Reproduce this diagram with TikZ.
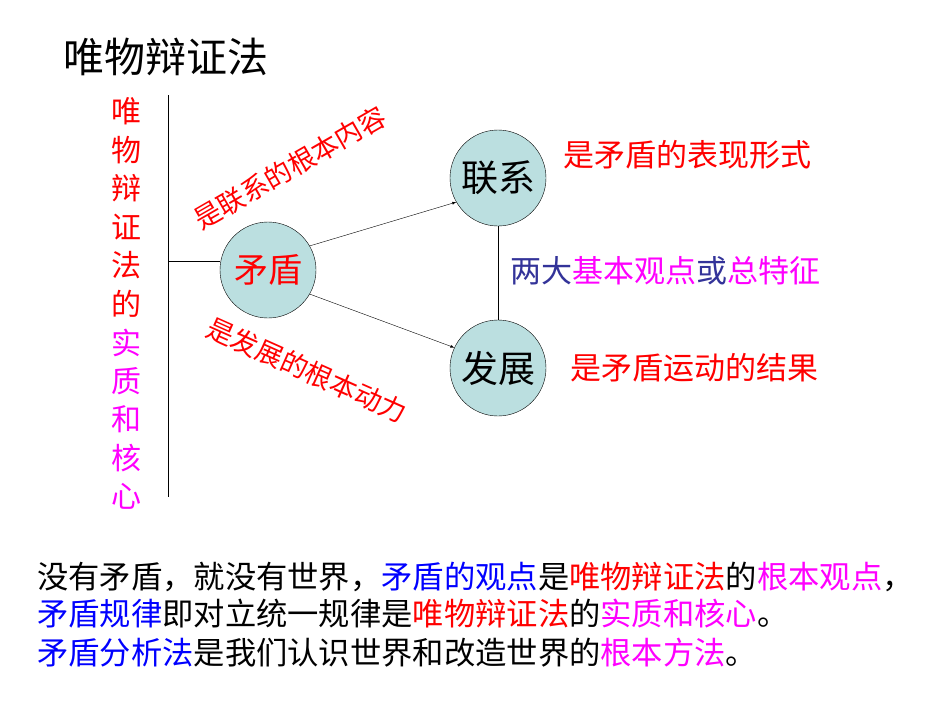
\documentclass[tikz,border=0pt]{standalone}
\usepackage{fontspec}
\setmainfont{Noto Sans CJK SC}
\begin{document}
\begin{tikzpicture}[x=1pt,y=-1pt,
  circ/.style={circle,draw,fill=cfill,minimum size=96pt,inner sep=0pt,font=\fontsize{37}{37}\selectfont},
  lab/.style={font=\fontsize{31}{31}\selectfont,text=red,inner sep=0pt},
  rlab/.style={font=\fontsize{27}{27}\selectfont,text=red,inner sep=0pt},
  btxt/.style={font=\fontsize{31.3}{31.3}\selectfont,anchor=west,inner sep=0pt},
  vch/.style={font=\fontsize{30}{30}\selectfont,inner sep=0pt}]
\definecolor{cfill}{HTML}{BBDFE0}
\definecolor{dkb}{HTML}{333399}
\definecolor{mg}{HTML}{FF00FF}
\useasboundingbox (0,0) rectangle (950,713);
\node[font=\fontsize{41}{41}\selectfont,anchor=west,inner sep=0pt] (title) at (63,57) {唯物辩证法};
\coordinate (vt) at (168,95); \coordinate (vb) at (168,497);
\draw (vt) -- (vb);
\foreach \c [count=\i] in {唯,物,辩,证,法,的} \node[vch,text=red] (v\i) at (126,73+38.5*\i) {\c};
\foreach \c [count=\i from 7] in {实,质,和,核,心} \node[vch,text=mg] (v\i) at (126,73+38.5*\i) {\c};
\node[circ,text=red,font=\fontsize{34}{34}\selectfont] (md) at (268,270) {矛盾};
\node[circ] (lx) at (498,178) {联系};
\node[circ] (fz) at (498,368) {发展};
\coordinate (hl) at (168,261);
\draw (hl) -- (md.west |- hl);
\draw[-latex] (md.30) -- (lx.210);
\draw[-latex] (md.-30) -- (fz.155);
\draw (lx) -- (fz);
\node[rlab,rotate=30] (l1) at (290,168) {是联系的根本内容};
\node[rlab,rotate=-24] (l2) at (307,370) {是发展的根本动力};
\node[lab,anchor=west] (r1) at (563,155) {是矛盾的表现形式};
\node[lab,anchor=west] (r2) at (510,271) {\textcolor{dkb}{两大}\textcolor{mg}{基本观点}\textcolor{dkb}{或}\textcolor{mg}{总特征}};
\node[lab,anchor=west] (r3) at (570,368) {是矛盾运动的结果};
\node[btxt] (b1) at (37,577) {没有矛盾，就没有世界，\textcolor{blue}{矛盾的观点}是\textcolor{red}{唯物辩证法}的\textcolor{mg}{根本观点}，};
\node[btxt] (b2) at (37,614) {\textcolor{blue}{矛盾规律}即对立统一规律是\textcolor{red}{唯物辩证法}的\textcolor{mg}{实质和核心}。};
\node[btxt] (b3) at (37,653) {\textcolor{blue}{矛盾分析法}是我们认识世界和改造世界的\textcolor{mg}{根本方法}。};
\end{tikzpicture}
\end{document}
